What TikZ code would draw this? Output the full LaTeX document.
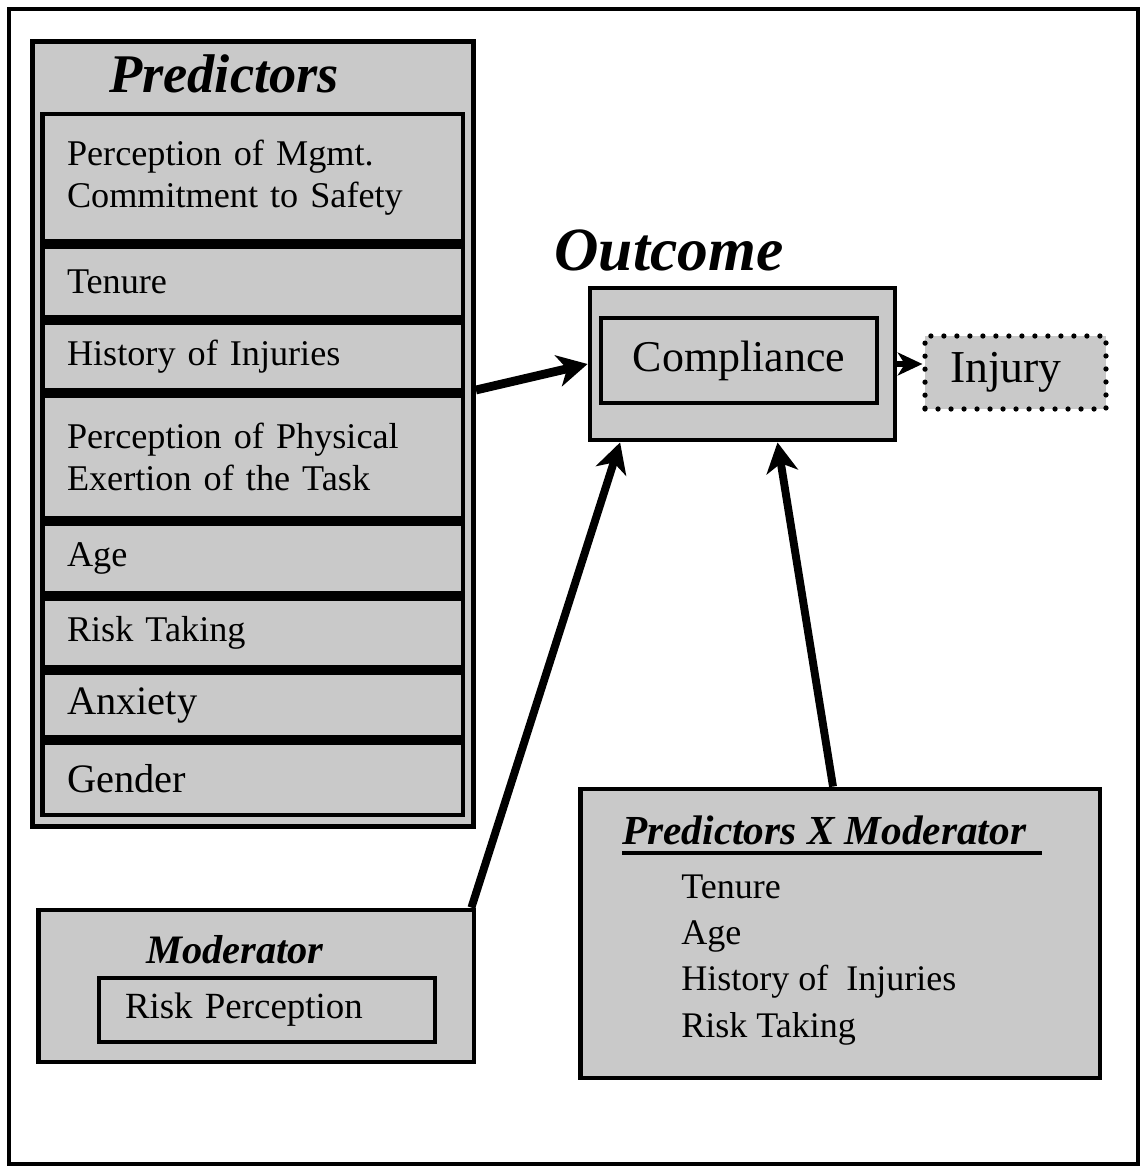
\documentclass[tikz,border=0pt]{standalone}
\usepackage{fontspec}
\setmainfont{Liberation Serif}
\usetikzlibrary{arrows.meta,calc}
\colorlet{boxfill}{black!21}
\tikzset{
  box/.style={draw,line width=2.8pt,fill=boxfill,inner sep=0pt},
  itembox/.style={box,minimum width=8.42cm,text width=7.42cm,inner xsep=0.5cm,align=left},
  heading/.style={font=\bfseries\itshape\fontsize{#1}{#1}\selectfont,inner sep=0pt},
  link/.style={line width=4.5pt,-{Stealth[length=17pt,width=18pt,inset=5pt]}}
}
\begin{document}
\begin{tikzpicture}[x=0.02cm,y=-0.02cm]
\useasboundingbox (0,0) rectangle (1141,1173);
\fill[white] (0,0) rectangle (1141,1173);
% frame
\draw[line width=2.6pt] (9,9) rectangle (1138,1164);

% predictors
\node[box,minimum width=8.82cm,minimum height=15.72cm] (pred) at (253,434) {};
\node[heading=31,anchor=base] (predtitle) at (224,92) {Predictors};
\foreach \name/\y/\h/\fs/\txt in {
  mgmt/177.75/2.55/20.6/{Perception of Mgmt.\\Commitment to Safety},
  tenure/282/1.42/20.6/Tenure,
  history/356.5/1.36/20.6/History of Injuries,
  physical/457/2.46/20.6/{Perception of Physical\\Exertion of the Task},
  age/558.5/1.40/20.6/Age,
  risk/633/1.38/20.6/Risk Taking,
  anxiety/705/1.30/23/Anxiety,
  gender/778.75/1.45/23/Gender}
  \node[itembox,minimum height=\h cm,font=\fontsize{\fs}{23.5}\selectfont] (\name) at (252.5,\y) {\txt};

% outcome
\node[heading=35,anchor=base] (outtitle) at (669,270) {Outcome};
\node[box,minimum width=6.1cm,minimum height=3.04cm] (comp) at (742.5,364) {};
\node[box,line width=2.4pt,minimum width=5.52cm,minimum height=1.7cm,font=\fontsize{25}{25}\selectfont] (compin) at (739,360.5) {Compliance};
\node[draw,line width=3pt,dash pattern=on 0pt off 7.4pt,line cap=round,fill=boxfill,minimum width=3.62cm,minimum height=1.46cm,text width=2.62cm,inner xsep=0.5cm,align=left,font=\fontsize{26}{26}\selectfont] (injury) at (1015.5,372.5) {Injury};

% moderator
\node[box,minimum width=8.72cm,minimum height=3.04cm] (mod) at (256,986) {};
\node[heading=23,anchor=base] (modtitle) at (235,963) {Moderator};
\node[box,line width=2.4pt,minimum width=6.72cm,minimum height=1.28cm,text width=5.68cm,inner xsep=0.52cm,align=left,font=\fontsize{21}{21}\selectfont] (riskperc) at (267,1010) {Risk Perception};

% predictors x moderator
\node[box,minimum width=10.4cm,minimum height=5.78cm] (pxm) at (840,933.5) {};
\node[heading=23.5,anchor=base west] (pxmtitle) at (622,844) {Predictors X Moderator};
\draw[line width=2.3pt] ([yshift=-5pt]pxmtitle.base west) -- ++(420,0);
\foreach \txt [count=\i] in {Tenure,Age,History of\ \ Injuries,Risk Taking}
  \node[anchor=base west,inner sep=0pt,font=\fontsize{20.5}{20.5}\selectfont] (pxmitem\i) at (681,{898+46.4*(\i-1)}) {\txt};

% arrows
\coordinate (p390) at (0,390);
\draw[link,line width=5pt] (pred.east |- p390) -- (comp.west);
\draw[link] ($(mod.north east)+(-5,0)$) -- ($(comp.south west)!0.105!(comp.south east)$);
\draw[link] ($(pxm.north)+(-7,0)$) -- ($(comp.south west)!0.613!(comp.south east)$);
\draw[line width=3pt,-{Stealth[length=14pt,width=13pt,inset=4pt]}] (comp.east) -- (comp.east -| injury.west);
\end{tikzpicture}
\end{document}
